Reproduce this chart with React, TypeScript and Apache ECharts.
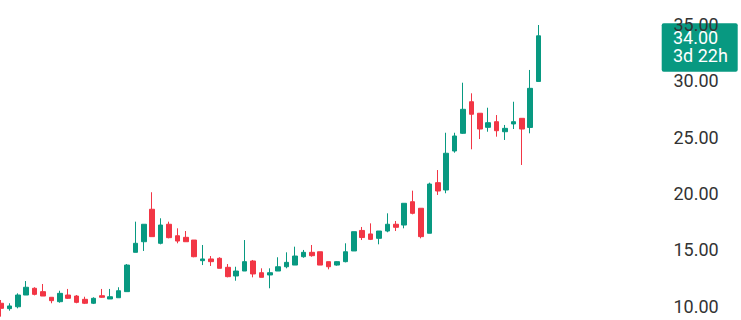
import React, { useEffect, useRef } from "react";
import * as echarts from "echarts";

// Candle values (oldest to newest)
const opens = [10.27, 9.79, 9.96, 11.0, 11.6, 11.3, 10.8, 10.41, 11.0, 10.91, 10.62, 10.27, 10.94, 10.65, 10.76, 11.3, 14.79, 15.73, 18.61, 15.59, 17.28, 16.26, 16.12, 15.88, 14.05, 14.2, 14.26, 13.46, 12.69, 13.13, 14.02, 12.98, 12.78, 13.13, 13.51, 13.66, 14.4, 14.79, 14.84, 13.96, 13.66, 13.96, 14.91, 16.73, 16.42, 16.03, 16.68, 17.28, 17.21, 19.28, 18.7, 16.48, 20.97, 20.32, 23.78, 25.35, 28.15, 27.13, 25.88, 26.38, 25.49, 26.18, 26.68, 25.87, 29.95];
const closes = [9.82, 10.03, 11.0, 11.69, 11.06, 10.91, 10.5, 11.15, 10.71, 10.35, 10.27, 10.71, 10.8, 10.85, 11.38, 13.66, 15.59, 17.28, 16.18, 17.21, 16.09, 15.79, 15.73, 14.4, 14.2, 13.96, 13.37, 12.63, 13.13, 13.96, 12.87, 12.57, 12.98, 13.51, 13.9, 14.46, 14.79, 14.49, 13.66, 13.51, 13.96, 14.84, 16.62, 16.1, 15.94, 16.68, 17.28, 17.01, 19.14, 18.25, 16.18, 20.85, 20.23, 23.58, 25.11, 27.48, 27.04, 25.73, 26.29, 25.58, 25.79, 26.38, 25.73, 29.34, 34.0];
const lows = [9.08, 9.61, 9.82, 11.0, 10.97, 10.91, 10.27, 10.32, 10.65, 10.27, 10.2, 10.2, 10.75, 10.65, 10.76, 11.3, 14.79, 14.91, 16.18, 15.5, 16.03, 15.59, 15.73, 14.35, 13.66, 13.58, 13.37, 12.57, 12.27, 13.13, 12.57, 12.57, 11.6, 13.13, 13.37, 13.66, 14.31, 14.4, 13.66, 13.28, 13.6, 13.9, 14.91, 15.88, 15.88, 15.5, 16.57, 16.68, 16.92, 18.16, 16.03, 16.48, 19.88, 20.03, 23.63, 25.3, 23.93, 24.84, 25.49, 25.05, 24.76, 25.73, 22.54, 25.35, 29.95];
const highs = [10.56, 10.27, 11.15, 12.24, 11.69, 11.98, 10.8, 11.38, 11.54, 11.0, 10.85, 10.8, 11.54, 11.54, 11.69, 13.75, 17.51, 17.28, 20.12, 17.81, 17.51, 16.92, 16.68, 15.88, 15.44, 14.46, 14.35, 13.75, 13.51, 15.88, 14.11, 13.37, 13.37, 14.35, 14.79, 15.29, 15.0, 15.44, 14.84, 13.96, 14.0, 15.59, 16.62, 17.04, 17.36, 16.68, 18.25, 17.57, 19.14, 20.26, 18.7, 20.97, 22.09, 25.4, 25.4, 29.84, 28.9, 27.13, 27.62, 26.97, 26.09, 28.15, 26.68, 30.97, 34.96];

// 65 sessions plus empty future slots on the right of the chart
const slotCount = 79;
const categories = Array.from({ length: slotCount }, (_, i) => String(i + 1));

const priceLabel = "34.00";
const countdownLabel = "3d 22h";

const UP = "#089981";
const DOWN = "#f23645";
const FONT = "Roboto, 'Liberation Sans', sans-serif";

export default function App() {
  const ref = useRef<HTMLDivElement>(null);

  useEffect(() => {
    if (!ref.current) return;
    const chart = echarts.init(ref.current, null, { renderer: "svg" });
    const data = opens.map((o, i) => [o, closes[i], lows[i], highs[i]]);
    chart.setOption({
      animation: false,
      backgroundColor: "#ffffff",
      grid: {
        left: -3.2,
        right: 80.6,
        top: -31.8,
        bottom: -42.65,
        containLabel: false,
        outerBoundsMode: "none",
      },
      xAxis: {
        type: "category",
        data: categories,
        boundaryGap: true,
        show: false,
      },
      yAxis: {
        type: "value",
        position: "right",
        min: 5,
        max: 40,
        interval: 5,
        axisLine: { show: false },
        axisTick: { show: false },
        splitLine: { show: false },
        axisLabel: {
          margin: 13,
          color: "#333333",
          fontSize: 18,
          fontFamily: FONT,
          formatter: (v: number) => v.toFixed(2),
        },
      },
      series: [
        {
          type: "candlestick",
          data,
          barWidth: 5,
          itemStyle: {
            color: UP,
            color0: DOWN,
            borderColor: UP,
            borderColor0: DOWN,
            borderWidth: 1,
          },
        },
      ],
    });

    const lastClose = closes[closes.length - 1];
    const yp = chart.convertToPixel({ yAxisIndex: 0 }, lastClose) as number;
    chart.setOption({
      graphic: [
        {
          type: "group",
          z: 100,
          children: [
            {
              type: "rect",
              shape: { x: 661.7, y: yp - 12.5, width: 76, height: 48.4, r: 2 },
              style: { fill: UP },
            },
            {
              type: "text",
              x: 673,
              y: yp + 1.7,
              style: {
                text: priceLabel,
                fill: "#ffffff",
                font: `18px ${FONT}`,
                verticalAlign: "middle",
                align: "left",
              },
            },
            {
              type: "text",
              x: 673,
              y: yp + 20,
              style: {
                text: countdownLabel,
                fill: "#ffffff",
                font: `18px ${FONT}`,
                verticalAlign: "middle",
                align: "left",
              },
            },
          ],
        },
      ],
    });

    return () => chart.dispose();
  }, []);

  return (
    <div
      ref={ref}
      style={{ position: "fixed", left: 0, top: 0, width: 741, height: 320 }}
    />
  );
}
